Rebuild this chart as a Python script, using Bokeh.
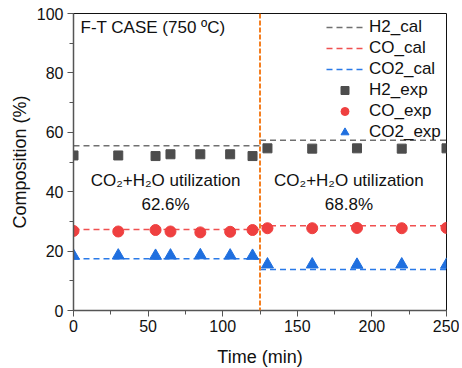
from bokeh.plotting import figure
from bokeh.models import Span, Label, Legend, LegendItem, SingleIntervalTicker
from bokeh.embed import file_html
from bokeh.resources import INLINE

# ---------------- data ----------------
period_start = [0, 125]
period_end = [125, 250]
h2_cal = [55.5, 57.3]
co_cal = [27.3, 28.5]
co2_cal = [17.4, 13.8]

t_exp = [0, 30, 55, 65, 85, 105, 120, 130, 160, 190, 220, 250]
h2_exp = [52.2, 52.2, 52.0, 52.6, 52.6, 52.6, 52.0, 54.6, 54.5, 54.6, 54.5, 54.6]
co_exp = [26.8, 26.6, 27.1, 26.6, 26.3, 26.5, 27.1, 27.7, 27.7, 27.8, 27.7, 27.8]
co2_exp = [18.4, 18.5, 18.4, 18.5, 18.6, 18.5, 18.4, 15.5, 15.5, 15.4, 15.5, 15.4]

switch_time = 125
utilization = ["62.6%", "68.8%"]

FONT = "Liberation Sans"
GRAY, RED, BLUE = "#4D4D4D", "#EF4040", "#1F6FDF"
GRAY_L, RED_L, BLUE_L = "#707070", "#F05050", "#2A7AE8"

p = figure(frame_width=373, frame_height=297, x_range=(0, 250), y_range=(0, 100),
           output_backend="svg", toolbar_location=None,
           min_border_left=73, min_border_right=13, min_border_top=13, min_border_bottom=10)
p.xgrid.visible = False
p.ygrid.visible = False
p.outline_line_color = "#111111"
p.outline_line_width = 1

p.xaxis.ticker = SingleIntervalTicker(interval=50, num_minor_ticks=2)
p.yaxis.ticker = SingleIntervalTicker(interval=20, num_minor_ticks=2)
for ax in (p.xaxis, p.yaxis):
    ax.axis_line_color = "#555555"
    ax.axis_line_width = 1.5
    ax.major_tick_line_color = "#555555"
    ax.minor_tick_line_color = "#555555"
    ax.major_tick_in = 0
    ax.major_tick_out = 6
    ax.minor_tick_in = 0
    ax.minor_tick_out = 4
    ax.major_label_text_font = FONT
    ax.major_label_text_font_size = "16px"
    ax.major_label_text_color = "#111111"
    ax.axis_label_text_font = FONT
    ax.axis_label_text_font_size = "18px"
    ax.axis_label_text_font_style = "normal"
    ax.axis_label_text_color = "#111111"
p.xaxis.axis_label = "Time (min)"
p.yaxis.axis_label = "Composition (%)"
p.xaxis.major_label_standoff = 3
p.xaxis.axis_label_standoff = 12
p.yaxis.major_label_standoff = 4
p.yaxis.axis_label_standoff = 4

dash = "6 4"
r_h2c = p.segment(x0=period_start, x1=period_end, y0=h2_cal, y1=h2_cal,
                  line_color=GRAY_L, line_width=1.5, line_dash=dash)
r_coc = p.segment(x0=period_start, x1=period_end, y0=co_cal, y1=co_cal,
                  line_color=RED_L, line_width=1.5, line_dash=dash)
r_co2c = p.segment(x0=period_start, x1=period_end, y0=co2_cal, y1=co2_cal,
                   line_color=BLUE_L, line_width=1.5, line_dash=dash)

r_h2e = p.scatter(t_exp, h2_exp, marker="square", size=9, fill_color=GRAY, line_color=GRAY)
r_coe = p.scatter(t_exp, co_exp, marker="circle", size=11, fill_color=RED, line_color=RED)
r_co2e = p.scatter(t_exp, co2_exp, marker="triangle", size=12, fill_color=BLUE, line_color=BLUE)

p.add_layout(Span(location=switch_time, dimension="height", line_color="#F47F20",
                  line_width=2, line_dash="5 2"))

legend = Legend(items=[
    LegendItem(label="H2_cal", renderers=[r_h2c]),
    LegendItem(label="CO_cal", renderers=[r_coc]),
    LegendItem(label="CO2_cal", renderers=[r_co2c]),
    LegendItem(label="H2_exp", renderers=[r_h2e]),
    LegendItem(label="CO_exp", renderers=[r_coe]),
    LegendItem(label="CO2_exp", renderers=[r_co2e]),
], location="top_right")
legend.border_line_color = None
legend.background_fill_alpha = 0
legend.padding = 0
legend.margin = 4
legend.spacing = 1
legend.glyph_width = 37
legend.glyph_height = 20
legend.label_height = 20
legend.label_width = 73
legend.label_standoff = 6
legend.label_text_font = FONT
legend.label_text_font_size = "17px"
legend.label_text_color = "#111111"
p.add_layout(legend)

p.add_layout(Label(x=7, y=283, x_units="screen", y_units="screen",
                   text="F-T CASE (750 ºC)", text_font=FONT, text_font_size="17px",
                   text_color="#111111", text_baseline="middle"))

for xc, util in zip([61.7, 184.6], utilization):
    p.add_layout(Label(x=xc, y=43.9, text="CO₂+H₂O utilization", text_align="center",
                       text_baseline="middle", text_font=FONT, text_font_size="17px",
                       text_color="#111111"))
    p.add_layout(Label(x=xc, y=35.7, text=util, text_align="center",
                       text_baseline="middle", text_font=FONT, text_font_size="17px",
                       text_color="#111111"))

open("out.html", "w").write(file_html(p, INLINE))
